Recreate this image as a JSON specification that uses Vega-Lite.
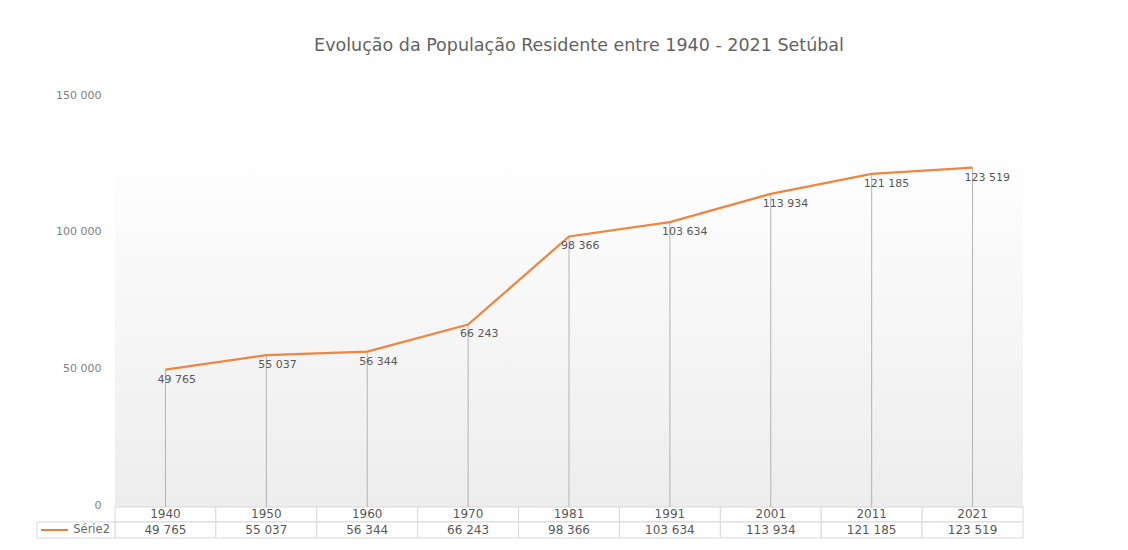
{
  "$schema": "https://vega.github.io/schema/vega-lite/v6.json",
  "autosize": {"type": "none"},
  "padding": {"left": 115, "top": 95, "right": 105, "bottom": 12},
  "width": 908,
  "height": 443,
  "background": "#ffffff",
  "config": {
    "locale": {"number": {"decimal": ",", "thousands": " ", "grouping": [3], "currency": ["", " €"]}},
    "view": {"stroke": null},
    "font": "DejaVu Sans"
  },
  "title": {
    "text": "Evolução da População Residente entre 1940 - 2021 Setúbal",
    "frame": "group",
    "anchor": "middle",
    "dx": 10,
    "offset": 35,
    "fontSize": 17.5,
    "fontWeight": "normal",
    "color": "#636363",
    "font": "DejaVu Sans"
  },
  "data": {
    "values": [
      {"year": "1940", "pop": 49765},
      {"year": "1950", "pop": 55037},
      {"year": "1960", "pop": 56344},
      {"year": "1970", "pop": 66243},
      {"year": "1981", "pop": 98366},
      {"year": "1991", "pop": 103634},
      {"year": "2001", "pop": 113934},
      {"year": "2011", "pop": 121185},
      {"year": "2021", "pop": 123519}
    ]
  },
  "encoding": {
    "x": {"field": "year", "type": "ordinal", "axis": null, "scale": {"paddingInner": 0, "paddingOuter": 0}}
  },
  "layer": [
    {
      "transform": [{"filter": "datum.year == '1940'"}],
      "mark": {"type": "rect", "fill": {"gradient": "linear", "x1": 0, "y1": 0, "x2": 0, "y2": 1, "stops": [{"offset": 0, "color": "#ffffff"}, {"offset": 1, "color": "#ededed"}]}},
      "encoding": {
        "x": {"datum": "1940", "type": "ordinal", "bandPosition": 0},
        "x2": {"datum": "2021", "bandPosition": 1},
        "y": {"datum": 131750, "type": "quantitative", "scale": {"domain": [-11679, 150000], "nice": false, "zero": false},
          "axis": {"values": [0, 50000, 100000, 150000], "format": ",.0f", "domain": false, "ticks": false, "grid": false, "labelPadding": 14, "labelFontSize": 11, "labelColor": "#7f7f7f", "labelFont": "DejaVu Sans", "title": null}},
        "y2": {"datum": -365}
      }
    },
    {
      "mark": {"type": "rect", "fill": "#ffffff", "stroke": "#d9d9d9", "strokeWidth": 1},
      "encoding": {"y": {"datum": -365, "type": "quantitative"}, "y2": {"datum": -5839}}
    },
    {
      "mark": {"type": "rect", "fill": "#ffffff", "stroke": "#d9d9d9", "strokeWidth": 1},
      "encoding": {"y": {"datum": -5839, "type": "quantitative"}, "y2": {"datum": -11679}}
    },
    {
      "transform": [{"filter": "datum.year == '1940'"}],
      "mark": {"type": "rect", "fill": "#ffffff", "stroke": "#d9d9d9", "strokeWidth": 1},
      "encoding": {
        "x": {"datum": "1940", "type": "ordinal", "bandPosition": -0.773},
        "x2": {"datum": "1940", "bandPosition": 0},
        "y": {"datum": -5839, "type": "quantitative"}, "y2": {"datum": -11679}
      }
    },
    {
      "transform": [{"filter": "datum.year == '1940'"}],
      "mark": {"type": "rule", "color": "#ED7D31", "strokeWidth": 2},
      "encoding": {
        "x": {"datum": "1940", "type": "ordinal", "bandPosition": -0.733},
        "x2": {"datum": "1940", "bandPosition": -0.466},
        "y": {"datum": -8759, "type": "quantitative"}
      }
    },
    {
      "transform": [{"filter": "datum.year == '1940'"}],
      "mark": {"type": "text", "text": "Série2", "align": "right", "baseline": "middle", "fontSize": 11.5, "color": "#6b6b6b"},
      "encoding": {
        "x": {"datum": "1940", "type": "ordinal", "bandPosition": -0.05},
        "y": {"datum": -8759, "type": "quantitative"}
      }
    },
    {
      "mark": {"type": "rule", "color": "#b3b3b3", "strokeWidth": 1},
      "encoding": {"y": {"field": "pop", "type": "quantitative"}, "y2": {"datum": -365}}
    },
    {
      "mark": {"type": "line", "color": "#EE8540", "strokeWidth": 2.25},
      "encoding": {"y": {"field": "pop", "type": "quantitative"}}
    },
    {
      "mark": {"type": "text", "align": "left", "baseline": "middle", "dx": -8, "dy": 10, "fontSize": 11, "color": "#595959"},
      "encoding": {"y": {"field": "pop", "type": "quantitative"}, "text": {"field": "pop", "type": "quantitative", "format": ","}}
    },
    {
      "mark": {"type": "text", "align": "center", "baseline": "middle", "fontSize": 12, "color": "#595959"},
      "encoding": {"y": {"datum": -3102, "type": "quantitative"}, "text": {"field": "year", "type": "nominal"}}
    },
    {
      "mark": {"type": "text", "align": "center", "baseline": "middle", "fontSize": 12, "color": "#595959"},
      "encoding": {"y": {"datum": -8759, "type": "quantitative"}, "text": {"field": "pop", "type": "quantitative", "format": ","}}
    }
  ]
}
